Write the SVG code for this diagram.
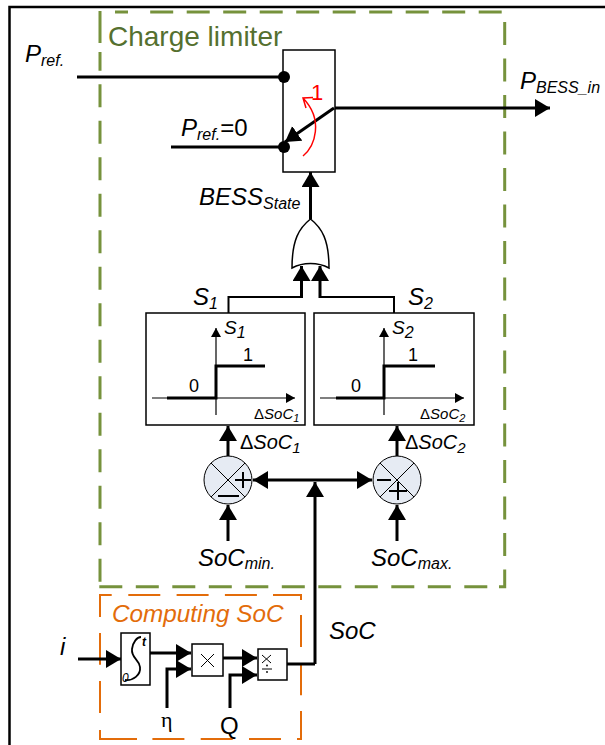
<svg xmlns="http://www.w3.org/2000/svg" width="605" height="745" viewBox="0 0 605 745">
<defs>
<marker id="ah" markerUnits="userSpaceOnUse" markerWidth="16" markerHeight="20" refX="15" refY="9" orient="auto"><path d="M0 0L15 9L0 18Z" fill="#000"/></marker>
<marker id="as" markerUnits="userSpaceOnUse" markerWidth="10" markerHeight="12" refX="9" refY="5" orient="auto"><path d="M0 0L9 5L0 10Z" fill="#000"/></marker>
</defs>
<style>
text{font-family:"Liberation Sans",Arial,sans-serif;fill:#000}
.i{font-style:italic}
.n{font-style:normal}
.l{font-size:24px}
.s{font-size:16px}
.m{font-size:19px}
.box{fill:#fff;stroke:#000;stroke-width:1.5}
.w{fill:none;stroke:#000;stroke-width:3}
.t{fill:none;stroke:#000;stroke-width:2}
.a{fill:none;stroke:#000;stroke-width:3;marker-end:url(#ah)}
.thin{fill:none;stroke:#000;stroke-width:1}
.ax{fill:none;stroke:#000;stroke-width:1.2;marker-end:url(#as)}
.sum{fill:#e6ebf3;stroke:#000;stroke-width:1}
.gd{fill:none;stroke:#76923c;stroke-width:3;stroke-dasharray:23 13.500}
.gs{fill:none;stroke:#76923c;stroke-width:3}
.od{fill:none;stroke:#e36c0a;stroke-width:2;stroke-dasharray:32 16.300}
.os{fill:none;stroke:#e36c0a;stroke-width:2}
</style>
<g id="frame"><path d="M9.500 745V7H605" fill="none" stroke="#000" stroke-width="2.500"/></g>
<g id="charge-limiter">
<path class="gd" d="M501.700 12H149"/>
<path class="gs" d="M115 12H128M100 11V43"/>
<path class="gd" d="M100 581.700V52"/>
<path class="gd" d="M504.700 22V570"/>
<path class="gd" d="M99.300 586.700H488"/>
<path class="gs" d="M499 586.700H504.700V570"/>
<text x="108" y="46" font-size="28" style="fill:#55702f">Charge limiter</text>
</g>
<g id="computing-soc">
<path class="os" d="M111.700 595H100V617"/>
<path class="od" d="M128.300 595H273"/>
<path class="os" d="M273 595H301V600"/>
<path class="od" d="M301 615V711"/>
<path class="os" d="M301 711V739H297"/>
<path class="od" d="M281 739H137"/>
<path class="os" d="M137 739H100V730"/>
<path class="od" d="M100 713V633"/>
<text x="112" y="622" font-size="24.300" class="i" style="fill:#e36c0a">Computing SoC</text>
</g>
<g id="switch">
<rect class="box" x="283" y="50" width="52" height="122"/>
<circle cx="284" cy="77" r="6"/>
<circle cx="284" cy="147" r="6"/>
<path d="M334 108L285 142" class="a"/>
<path d="M303 156C315 146 324 120 303 98M313 97.500L303 98L306 108" fill="none" stroke="#f00" stroke-width="1.500"/>
<text x="311" y="100" font-size="22" style="fill:#f00">1</text>
</g>
<g id="or-gate">
<path d="M310.500 219C322 228 329 240 329 268C318 262 303 262 292 268C292 240 299 228 310.500 219Z" fill="#fff" stroke="#000" stroke-width="1.500"/>
</g>
<g id="comparator-1">
<rect class="box" x="146" y="313" width="159" height="112"/>
<path class="ax" d="M216 415V328"/>
<path class="ax" d="M152 398H295"/>
<path class="w" d="M167 398H216V366H265"/>
<text class="i m" x="224" y="334">S<tspan class="s" font-size="14" dy="4">1</tspan></text>
<text x="243" y="361" font-size="18">1</text>
<text x="189" y="392" font-size="18">0</text>
<text x="254" y="419" font-size="15">Δ<tspan class="i">SoC</tspan><tspan class="i" font-size="11" dy="3">1</tspan></text>
</g>
<g id="comparator-2">
<rect class="box" x="314" y="313" width="160" height="112"/>
<path class="ax" d="M384 415V328"/>
<path class="ax" d="M320 398H464"/>
<path class="w" d="M336 398H384V366H435"/>
<text class="i m" x="392" y="334">S<tspan class="s" dy="4">2</tspan></text>
<text x="408" y="361" font-size="18">1</text>
<text x="351" y="392" font-size="18">0</text>
<text x="420" y="419" font-size="15">Δ<tspan class="i">SoC</tspan><tspan class="i" font-size="11" dy="3">2</tspan></text>
</g>
<g id="sum-1">
<circle class="sum" cx="228" cy="480" r="24"/>
<path class="thin" d="M211 463L245 497M245 463L211 497"/>
<path class="t" d="M235 480H251M243 472V488M218 496H239"/>
</g>
<g id="sum-2">
<circle class="sum" cx="397" cy="480" r="24"/>
<path class="thin" d="M380 463L414 497M414 463L380 497"/>
<path class="t" d="M377 480H391M389 491H407M398 482V500"/>
</g>
<g id="integrator">
<rect class="box" x="121" y="633" width="29" height="52"/>
<path d="M125 680C133 681 141 675 140 667C139 659 131 658 132 649C133 642 137 637 141 637" fill="none" stroke="#000" stroke-width="1.800"/>
<text class="i" x="142" y="646" font-size="12" font-weight="bold">t</text>
<text class="i" x="122" y="682" font-size="12">0</text>
</g>
<g id="multiplier">
<rect class="box" x="192" y="644" width="31" height="32"/>
<path class="thin" d="M201 654L214 667M214 654L201 667" stroke-width="1.500"/>
</g>
<g id="divider">
<rect class="box" x="258" y="649" width="29" height="31"/>
<path class="thin" d="M262 655L271 663M271 655L262 663M262 669H272"/>
<circle cx="267" cy="665.500" r="0.900"/><circle cx="267" cy="672" r="0.900"/>
</g>
<g id="connectors">
<path class="w" d="M77 77H283"/>
<path class="w" d="M171 147H283"/>
<path class="a" d="M335 108H550"/>
<path class="a" d="M310.500 219V172"/>
<path class="t" d="M228.500 313V297H301.500"/>
<path class="a" d="M301.500 298V266"/>
<path class="t" d="M394 313V297H320"/>
<path class="a" d="M320 298V266"/>
<path class="a" d="M228 456V426"/>
<path class="a" d="M397 456V426"/>
<path class="a" d="M300 480H253"/>
<path class="a" d="M300 480H372"/>
<path class="a" d="M315 664V482"/>
<path class="a" d="M228 541V505"/>
<path class="a" d="M397 541V505"/>
<path class="a" d="M78 659H121"/>
<path class="a" d="M150 653H191"/>
<path class="a" d="M167 708V669H191"/>
<path class="a" d="M223 658H257"/>
<path class="a" d="M230 708V675H257"/>
<path class="w" d="M287 664H315"/>
</g>
<g id="labels">
<text class="i l" x="25" y="62">P<tspan class="s" dy="4">ref.</tspan></text>
<text class="i l" x="181" y="136">P<tspan class="s" dy="4">ref.</tspan><tspan class="n" dy="-4">=0</tspan></text>
<text class="i l" x="520" y="89">P<tspan class="s" dy="4">BESS_in</tspan></text>
<text class="i l" x="199" y="205">BESS<tspan class="s" dy="4">State</tspan></text>
<text class="i l" x="193" y="305">S<tspan class="s" dy="4">1</tspan></text>
<text class="i l" x="408" y="305">S<tspan class="s" dy="4">2</tspan></text>
<text x="240" y="449" font-size="20">Δ<tspan class="i">SoC</tspan><tspan class="i" font-size="15" dy="4">1</tspan></text>
<text x="405" y="449" font-size="20">Δ<tspan class="i">SoC</tspan><tspan class="i" font-size="15" dy="4">2</tspan></text>
<text class="i l" x="198" y="566">SoC<tspan class="s" dy="3">min.</tspan></text>
<text class="i l" x="371" y="566">SoC<tspan class="s" dy="3">max.</tspan></text>
<text class="i l" x="329" y="639">SoC</text>
<text class="i l" x="60" y="655">i</text>
<text x="161" y="727" font-size="22" style="font-family:'Liberation Serif',serif">η</text>
<text x="220" y="734" font-size="24">Q</text>
</g>
</svg>
